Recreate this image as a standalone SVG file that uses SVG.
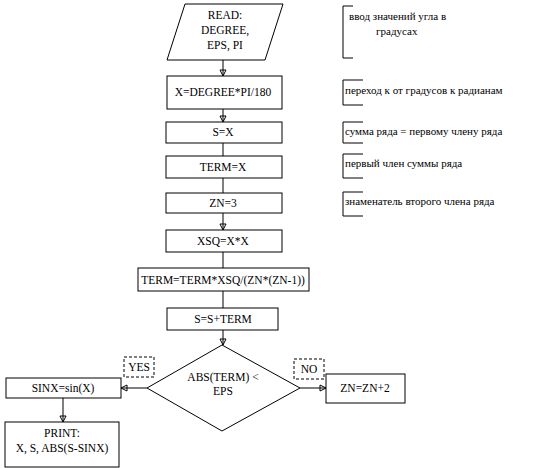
<svg xmlns="http://www.w3.org/2000/svg" width="560" height="468" viewBox="0 0 560 468" font-family="Liberation Serif">
<defs>
<style>
.b{fill:#fff;stroke:#000;stroke-width:1}
.d{fill:#fff;stroke:#000;stroke-width:1;stroke-dasharray:3,2}
.c{fill:none;stroke:#000;stroke-width:1}
.t{font-size:11.5px;fill:#000;text-anchor:middle}
.r{font-size:11px;fill:#000}
</style>
<marker id="a" markerUnits="userSpaceOnUse" markerWidth="10" markerHeight="10" refX="7" refY="4" orient="auto">
<path d="M1,1 L1,7 L7,4 Z" fill="none" stroke="#000" stroke-width="1"/>
</marker>
</defs>
<rect width="560" height="468" fill="#fff"/>
<g id="connectors">
<line class="c" x1="223" y1="60" x2="223" y2="76" marker-end="url(#a)"/>
<line class="c" x1="223" y1="109" x2="223" y2="122" marker-end="url(#a)"/>
<line class="c" x1="223" y1="143" x2="223" y2="156"/>
<line class="c" x1="223" y1="178" x2="223" y2="193"/>
<line class="c" x1="223" y1="213" x2="223" y2="230" marker-end="url(#a)"/>
<line class="c" x1="223" y1="252" x2="223" y2="268"/>
<line class="c" x1="223" y1="291" x2="223" y2="308"/>
<line class="c" x1="223" y1="330" x2="223" y2="345" marker-end="url(#a)"/>
<line class="c" x1="147" y1="388" x2="121" y2="388" marker-end="url(#a)"/>
<line class="c" x1="300" y1="388" x2="326" y2="388" marker-end="url(#a)"/>
<line class="c" x1="63" y1="398" x2="63" y2="422" marker-end="url(#a)"/>
</g>
<g id="read">
<polygon class="b" points="185,4 283,4 265,60 167,60"/>
<text class="t" x="225" y="19">READ:</text>
<text class="t" x="225" y="34">DEGREE,</text>
<text class="t" x="225" y="49">EPS, PI</text>
</g>
<g id="x"><rect class="b" x="167" y="76" width="115" height="33"/><text class="t" x="223" y="96">X=DEGREE*PI/180</text></g>
<g id="s"><rect class="b" x="166" y="122" width="116" height="21"/><text class="t" x="223" y="136">S=X</text></g>
<g id="term"><rect class="b" x="166" y="156" width="116" height="22"/><text class="t" x="223" y="171">TERM=X</text></g>
<g id="zn"><rect class="b" x="166" y="193" width="116" height="20"/><text class="t" x="223" y="207">ZN=3</text></g>
<g id="xsq"><rect class="b" x="166" y="230" width="116" height="22"/><text class="t" x="223" y="245">XSQ=X*X</text></g>
<g id="term2"><rect class="b" x="138" y="268" width="171" height="23"/><text class="t" x="223" y="284">TERM=TERM*XSQ/(ZN*(ZN-1))</text></g>
<g id="ss"><rect class="b" x="167" y="308" width="111" height="22"/><text class="t" x="223" y="323">S=S+TERM</text></g>
<g id="cond">
<polygon class="b" points="222,345 300,388 222,431 147,388"/>
<text class="t" x="223" y="381">ABS(TERM) &lt;</text>
<text class="t" x="223" y="395">EPS</text>
</g>
<g id="yes"><rect class="d" x="124" y="357" width="30" height="20"/><text class="t" x="139" y="371">YES</text></g>
<g id="no"><rect class="d" x="294" y="359" width="30" height="20"/><text class="t" x="309" y="373">NO</text></g>
<g id="sinx"><rect class="b" x="6" y="378" width="115" height="20"/><text class="t" x="63" y="392">SINX=sin(X)</text></g>
<g id="print"><rect class="b" x="5" y="422" width="114" height="45"/><text class="t" x="62" y="437">PRINT:</text><text class="t" x="62" y="452">X, S, ABS(S-SINX)</text></g>
<g id="zn2"><rect class="b" x="326" y="374" width="79" height="29"/><text class="t" x="365" y="392">ZN=ZN+2</text></g>
<g id="note1"><path class="c" d="M353,6 H343 V58 H353"/><text class="r" x="349" y="20">ввод значений угла в</text><text class="r" x="376" y="35">градусах</text></g>
<g id="note2"><path class="c" d="M363,80 H343 V105 H363"/><text class="r" x="345" y="94">переход к от градусов к радианам</text></g>
<g id="note3"><path class="c" d="M363,122 H343 V143 H363"/><text class="r" x="345" y="135">сумма ряда = первому члену ряда</text></g>
<g id="note4"><path class="c" d="M363,154 H343 V178 H363"/><text class="r" x="345" y="167">первый член суммы ряда</text></g>
<g id="note5"><path class="c" d="M363,192 H343 V216 H363"/><text class="r" x="345" y="205">знаменатель второго члена ряда</text></g>
</svg>
